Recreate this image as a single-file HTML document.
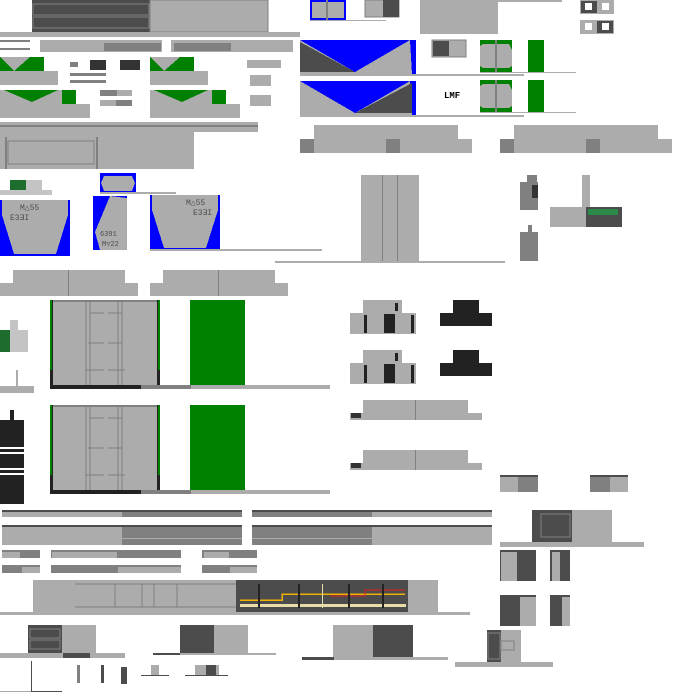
<!DOCTYPE html>
<html><head><meta charset="utf-8"><style>
html,body{margin:0;padding:0;background:#fff;width:700px;height:700px;overflow:hidden}
svg{display:block}
text{font-family:"Liberation Mono",monospace}
</style></head><body>
<svg width="700" height="700" viewBox="0 0 700 700" shape-rendering="crispEdges">
<g fill="#acacac">
<rect x="32" y="0" width="118" height="32" fill="#4c4c4c"/>
<rect x="33" y="4" width="116" height="11" fill="#4c4c4c" stroke="#808080"/>
<rect x="33" y="17" width="116" height="11" fill="#4c4c4c" stroke="#808080"/>
<rect x="150" y="0" width="118" height="32" stroke="#808080"/>
<rect x="0" y="32" width="300" height="5"/>
<rect x="0" y="40" width="30" height="2" fill="#808080"/><rect x="0" y="48" width="30" height="2" fill="#808080"/>
<rect x="40" y="40" width="122" height="12"/><rect x="104" y="43" width="57" height="8" fill="#808080"/>
<rect x="171" y="40" width="122" height="12"/><rect x="174" y="43" width="57" height="8" fill="#808080"/>
<rect x="0" y="57" width="44" height="14" fill="#008000"/><polygon points="0,57 30,57 14,71"/>
<rect x="0" y="71" width="58" height="14"/>
<rect x="150" y="57" width="44" height="14" fill="#008000"/><polygon points="150,57 180,57 164,71"/>
<rect x="150" y="71" width="58" height="14"/>
<rect x="0" y="90" width="62" height="14"/><polygon points="4,90 58,90 32,102" fill="#008000"/><rect x="62" y="90" width="14" height="14" fill="#008000"/><rect x="0" y="104" width="90" height="14"/>
<rect x="150" y="90" width="62" height="14"/><polygon points="154,90 208,90 182,102" fill="#008000"/><rect x="212" y="90" width="14" height="14" fill="#008000"/><rect x="150" y="104" width="90" height="14"/>
<rect x="70" y="62" width="8" height="5" fill="#808080"/>
<rect x="90" y="60" width="16" height="10" fill="#333"/><rect x="120" y="60" width="20" height="10" fill="#333"/>
<rect x="70" y="73" width="36" height="3" fill="#808080"/><rect x="70" y="80" width="36" height="3" fill="#808080"/>
<rect x="100" y="90" width="32" height="6" fill="#808080"/><rect x="117" y="90" width="15" height="6"/>
<rect x="100" y="100" width="32" height="6" fill="#808080"/><rect x="100" y="100" width="16" height="6"/>
<rect x="247" y="60" width="34" height="8"/><rect x="250" y="75" width="21" height="11"/><rect x="250" y="95" width="21" height="11"/>
<rect x="0" y="122" width="258" height="10"/><rect x="0" y="125" width="258" height="2" fill="#808080"/>
<rect x="0" y="132" width="194" height="37"/><rect x="8" y="141" width="86" height="23" stroke="#808080" fill="none"/>
<rect x="5" y="137" width="2" height="32" fill="#808080"/><rect x="96" y="137" width="2" height="32" fill="#808080"/>
<rect x="10" y="180" width="16" height="10" fill="#1d6e2e"/><rect x="26" y="180" width="16" height="10" fill="#c4c4c4"/><rect x="0" y="190" width="52" height="5" fill="#c4c4c4"/>
<rect x="100" y="173" width="36" height="20" fill="#0000ff"/><polygon points="104,176 132,176 135,183 132,191 104,191 101,183"/>
<rect x="100" y="192" width="76" height="2"/>
<rect x="0" y="200" width="70" height="56" fill="#0000ff"/><polygon points="2,200 68,200 68,215 56,254 14,254 2,215"/>
<rect x="93" y="196" width="34" height="54" fill="#0000ff"/><polygon points="110,196 127,198 127,250 100,250 95,232"/>
<rect x="150" y="195" width="70" height="55" fill="#0000ff"/><polygon points="152,195 218,195 218,210 206,248 164,248 152,210"/>
<rect x="150" y="249" width="172" height="2"/>
<text x="20" y="210" font-size="8" fill="#4c4c4c">M△55</text><text x="10" y="220" font-size="8" fill="#4c4c4c">E3ƎI</text>
<text x="100" y="236" font-size="7" fill="#4c4c4c">6391</text><text x="102" y="246" font-size="7" fill="#4c4c4c">M▽22</text>
<text x="186" y="205" font-size="8" fill="#4c4c4c">M△55</text><text x="193" y="215" font-size="8" fill="#4c4c4c">E3ƎI</text>
<rect x="310" y="0" width="36" height="20" fill="#0000ff"/><polygon points="312,2 344,2 344,18 312,18"/><rect x="326" y="0" width="2" height="20" fill="#808080"/>
<rect x="310" y="20" width="76" height="1"/>
<rect x="365" y="0" width="34" height="17" stroke="#808080"/><rect x="383" y="0" width="16" height="17" fill="#4c4c4c"/>
<rect x="420" y="0" width="78" height="34"/><rect x="498" y="0" width="64" height="2"/>
<rect x="580" y="0" width="34" height="14"/><rect x="581" y="1" width="16" height="12" fill="#4c4c4c"/><rect x="585" y="3" width="7" height="7" fill="#fff"/><rect x="602" y="3" width="7" height="7" fill="#fff"/>
<rect x="580" y="20" width="34" height="14"/><rect x="597" y="21" width="16" height="12" fill="#4c4c4c"/><rect x="585" y="23" width="7" height="7" fill="#fff"/><rect x="602" y="23" width="7" height="7" fill="#fff"/>
<rect x="300" y="40" width="116" height="34" fill="#0000ff"/><polygon points="300,40 355,72 410,40 412,74 300,74"/><polygon points="300,42 355,72 300,72" fill="#4c4c4c"/>
<rect x="300" y="74" width="224" height="2"/>
<rect x="432" y="40" width="34" height="17" stroke="#808080"/><rect x="433" y="41" width="16" height="15" fill="#4c4c4c"/>
<rect x="480" y="40" width="32" height="32" fill="#008000"/><polygon points="483,44 509,44 512,50 512,66 509,68 483,68 480,66 480,46"/><rect x="495" y="40" width="2" height="32" fill="#808080"/>
<rect x="528" y="40" width="16" height="32" fill="#008000"/><rect x="480" y="72" width="96" height="1"/>
<rect x="300" y="81" width="116" height="34" fill="#0000ff"/><polygon points="300,81 355,113 410,81 412,115 300,115"/><polygon points="412,83 355,113 412,113" fill="#4c4c4c"/>
<rect x="300" y="115" width="224" height="2"/>
<text x="444" y="98" font-size="9" font-weight="bold" fill="#000">LMF</text>
<rect x="480" y="80" width="32" height="32" fill="#008000"/><polygon points="483,84 509,84 512,90 512,106 509,108 483,108 480,106 480,86"/><rect x="495" y="80" width="2" height="32" fill="#808080"/>
<rect x="528" y="80" width="16" height="32" fill="#008000"/><rect x="480" y="112" width="96" height="1"/>
<rect x="314" y="125" width="72" height="28"/><rect x="300" y="139" width="14" height="14" fill="#808080"/><rect x="386" y="125" width="72" height="28"/><rect x="400" y="139" width="72" height="14"/><rect x="386" y="139" width="14" height="14" fill="#808080"/>
<rect x="514" y="125" width="72" height="28"/><rect x="500" y="139" width="14" height="14" fill="#808080"/><rect x="586" y="125" width="72" height="28"/><rect x="600" y="139" width="72" height="14"/><rect x="586" y="139" width="14" height="14" fill="#808080"/>
<rect x="361" y="175" width="58" height="86"/><rect x="382" y="175" width="1" height="86" fill="#808080"/><rect x="397" y="175" width="1" height="86" fill="#808080"/>
<rect x="275" y="261" width="230" height="2"/><rect x="300" y="250" width="22" height="1"/>
<rect x="527" y="175" width="10" height="8" fill="#808080"/><rect x="520" y="182" width="18" height="28" fill="#808080"/><rect x="532" y="185" width="6" height="13" fill="#333"/>
<rect x="528" y="225" width="4" height="8" fill="#808080"/><rect x="520" y="232" width="18" height="29" fill="#808080"/>
<rect x="582" y="175" width="8" height="32"/><rect x="550" y="207" width="72" height="20"/><rect x="586" y="207" width="36" height="20" fill="#4c4c4c"/><rect x="588" y="209" width="30" height="6" fill="#2a8a4a"/>
<rect x="13" y="270" width="112" height="26"/><rect x="0" y="283" width="138" height="13"/><rect x="68" y="270" width="1" height="26" fill="#808080"/>
<rect x="163" y="270" width="112" height="26"/><rect x="150" y="283" width="138" height="13"/><rect x="218" y="270" width="1" height="26" fill="#808080"/>
<rect x="0" y="330" width="10" height="22" fill="#1d6e2e"/><rect x="10" y="320" width="8" height="12" fill="#c4c4c4"/><rect x="10" y="330" width="18" height="22" fill="#c4c4c4"/>
<rect x="16" y="370" width="2" height="16"/><rect x="0" y="386" width="34" height="7"/>
<rect x="10" y="410" width="4" height="10" fill="#222"/><rect x="0" y="420" width="24" height="84" fill="#222"/><rect x="0" y="447" width="24" height="2" fill="#fff"/><rect x="0" y="452" width="24" height="2" fill="#fff"/><rect x="0" y="468" width="24" height="2" fill="#fff"/><rect x="0" y="473" width="24" height="2" fill="#fff"/>
<g id="seat">
<rect x="50" y="300" width="110" height="89" fill="#222"/><rect x="50" y="300" width="2" height="70" fill="#008000"/><rect x="158" y="300" width="2" height="70" fill="#008000"/>
<rect x="53" y="300" width="104" height="85"/><rect x="53" y="300" width="104" height="2" fill="#808080"/>
<g fill="none" stroke="#808080"><path d="M86 302V385M90 302V385M118 302V385M122 302V385M90 313H104M108 313H122M88 343H104M108 343H122M85 370H104M108 370H125"/></g>
<rect x="190" y="300" width="55" height="85" fill="#008000"/>
<rect x="50" y="385" width="91" height="4" fill="#222"/><rect x="141" y="385" width="50" height="4" fill="#808080"/><rect x="191" y="385" width="139" height="4"/>
</g>
<use href="#seat" y="105"/>
<g id="blk">
<rect x="363" y="300" width="39" height="14"/><rect x="350" y="313" width="66" height="21"/><rect x="395" y="303" width="3" height="8" fill="#222"/>
<rect x="384" y="314" width="11" height="19" fill="#222"/><rect x="364" y="315" width="3" height="18" fill="#222"/><rect x="411" y="315" width="3" height="18" fill="#222"/>
<rect x="453" y="300" width="26" height="14" fill="#222"/><rect x="440" y="313" width="52" height="13" fill="#222"/>
</g>
<use href="#blk" y="50"/>
<g id="bar2"><rect x="363" y="400" width="105" height="13"/><rect x="350" y="413" width="132" height="7"/><rect x="415" y="400" width="1" height="20" fill="#808080"/><rect x="351" y="413" width="10" height="5" fill="#333"/></g>
<use href="#bar2" y="50"/>
<rect x="500" y="475" width="38" height="2" fill="#4c4c4c"/><rect x="500" y="477" width="18" height="15"/><rect x="518" y="477" width="20" height="15" fill="#808080"/>
<rect x="590" y="475" width="38" height="2" fill="#4c4c4c"/><rect x="590" y="477" width="20" height="15" fill="#808080"/><rect x="610" y="477" width="18" height="15"/>
<rect x="2" y="510" width="240" height="2" fill="#4c4c4c"/><rect x="2" y="512" width="120" height="5"/><rect x="122" y="512" width="120" height="5" fill="#808080"/>
<rect x="252" y="510" width="240" height="2" fill="#4c4c4c"/><rect x="252" y="512" width="120" height="5" fill="#808080"/><rect x="372" y="512" width="120" height="5"/>
<rect x="2" y="525" width="240" height="2" fill="#4c4c4c"/><rect x="2" y="527" width="120" height="18"/><rect x="122" y="527" width="120" height="18" fill="#808080"/><rect x="122" y="538" width="120" height="1"/>
<rect x="252" y="525" width="240" height="2" fill="#4c4c4c"/><rect x="252" y="527" width="120" height="18" fill="#808080"/><rect x="252" y="538" width="120" height="1"/><rect x="372" y="527" width="120" height="18"/>
<rect x="2" y="550" width="38" height="8" fill="#808080"/><rect x="2" y="552" width="18" height="6"/><rect x="51" y="550" width="130" height="8" fill="#808080"/><rect x="52" y="552" width="65" height="6"/><rect x="202" y="550" width="55" height="8" fill="#808080"/><rect x="204" y="552" width="25" height="6"/>
<rect x="2" y="565" width="38" height="8" fill="#808080"/><rect x="22" y="567" width="18" height="6"/><rect x="51" y="565" width="130" height="8" fill="#808080"/><rect x="118" y="567" width="63" height="6"/><rect x="202" y="565" width="55" height="8" fill="#808080"/><rect x="230" y="567" width="27" height="6"/>
<rect x="33" y="580" width="405" height="32"/><rect x="236" y="580" width="172" height="32" fill="#4c4c4c"/>
<g fill="none" stroke="#808080"><path d="M75 584H236M75 607H236M115 584V607M142 584V607M154 584V607M177 584V607"/></g>
<path d="M240 600H282V594H405" stroke="#f0b000" fill="none" stroke-width="1.5"/><path d="M330 596H365V590H405" stroke="#e02020" fill="none"/>
<rect x="240" y="604" width="166" height="3" fill="#e8dca8"/><rect x="258" y="584" width="2" height="24" fill="#222"/><rect x="298" y="584" width="2" height="24" fill="#222"/><rect x="348" y="584" width="2" height="24" fill="#222"/><rect x="382" y="584" width="2" height="24" fill="#222"/><rect x="322" y="584" width="1" height="24" fill="#e8dca8"/>
<rect x="0" y="612" width="470" height="3"/>
<rect x="28" y="625" width="34" height="28" fill="#4c4c4c"/><rect x="30" y="629" width="30" height="9" stroke="#808080"  fill="#4c4c4c"/><rect x="30" y="640" width="30" height="9" stroke="#808080" fill="#4c4c4c"/><rect x="62" y="625" width="34" height="28"/><rect x="0" y="653" width="125" height="5"/><rect x="63" y="653" width="27" height="5" fill="#4c4c4c"/>
<rect x="180" y="625" width="34" height="28" fill="#4c4c4c"/><rect x="214" y="625" width="34" height="28"/><rect x="153" y="653" width="123" height="2"/><rect x="153" y="653" width="27" height="2" fill="#4c4c4c"/>
<rect x="333" y="625" width="40" height="32"/><rect x="373" y="625" width="40" height="32" fill="#4c4c4c"/><rect x="302" y="657" width="146" height="3"/><rect x="302" y="657" width="32" height="3" fill="#4c4c4c"/>
<rect x="532" y="510" width="40" height="32" fill="#4c4c4c"/><rect x="541" y="514" width="29" height="23" fill="none" stroke="#808080"/><rect x="572" y="510" width="40" height="32"/><rect x="500" y="542" width="144" height="5"/>
<rect x="500" y="550" width="36" height="31" fill="#4c4c4c"/><rect x="501" y="552" width="16" height="29"/>
<rect x="550" y="550" width="20" height="31" fill="#4c4c4c"/><rect x="552" y="552" width="8" height="29"/>
<rect x="500" y="595" width="36" height="31" fill="#4c4c4c"/><rect x="520" y="597" width="16" height="29"/>
<rect x="550" y="595" width="20" height="31" fill="#4c4c4c"/><rect x="562" y="597" width="8" height="29"/>
<rect x="487" y="630" width="34" height="32"/><rect x="487" y="630" width="14" height="32" fill="#4c4c4c"/><rect x="488" y="633" width="12" height="26" fill="none" stroke="#808080"/><rect x="501" y="641" width="13" height="9" fill="none" stroke="#808080"/>
<rect x="455" y="662" width="98" height="5"/>
<rect x="31" y="661" width="1" height="30" fill="#4c4c4c"/><rect x="31" y="691" width="31" height="1" fill="#4c4c4c"/><rect x="0" y="691" width="31" height="1"/>
<rect x="77" y="665" width="3" height="18" fill="#808080"/><rect x="101" y="665" width="3" height="18" fill="#4c4c4c"/><rect x="121" y="667" width="6" height="17" fill="#4c4c4c"/>
<rect x="151" y="665" width="8" height="10"/><rect x="141" y="675" width="28" height="1" fill="#4c4c4c"/>
<rect x="195" y="665" width="24" height="10"/><rect x="206" y="665" width="10" height="10" fill="#4c4c4c"/><rect x="185" y="675" width="43" height="1" fill="#4c4c4c"/>
</g>
</svg>
</body></html>
